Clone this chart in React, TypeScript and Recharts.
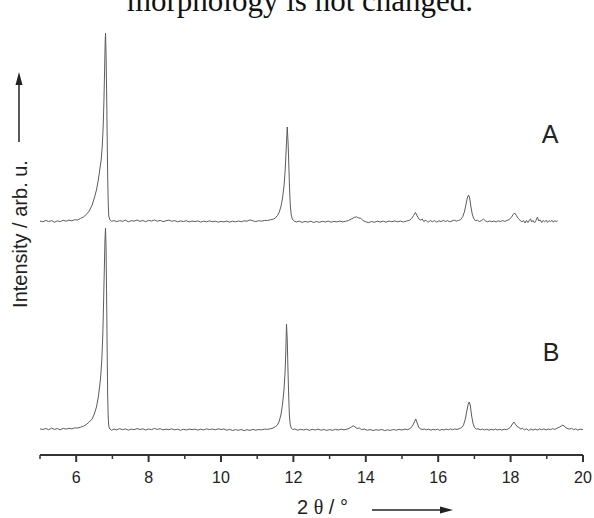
import { LineChart, Line, XAxis, YAxis } from 'recharts'

// 2θ (deg) and intensity above baseline (arb. u.)
const patternA: [number, number][] = [
  [5.0, 1.0], [5.08, 0.2], [5.16, 1.6], [5.24, 0.5], [5.32, 1.3], [5.4, -0.2], [5.48, 1.1], [5.56, 0.4],
  [5.64, 1.7], [5.72, 0.8], [5.8, 1.9], [5.88, 1.2], [5.96, 2.3], [6.04, 2.0], [6.12, 3.6], [6.2, 5.0],
  [6.28, 7.5], [6.36, 11], [6.44, 17], [6.5, 24], [6.56, 32], [6.61, 42], [6.65, 52], [6.69, 62],
  [6.72, 76], [6.745, 95], [6.765, 120], [6.785, 152], [6.8, 180], [6.81, 189], [6.825, 168], [6.84, 132],
  [6.855, 88], [6.87, 45], [6.885, 18], [6.9, 6], [6.93, 2.2], [6.98, 0.6], [7.04, 1.5], [7.12, 0.3],
  [7.2, 1.4], [7.28, 0.7], [7.36, 1.8], [7.44, 0.2], [7.52, 1.3], [7.6, 0.9], [7.68, 2.0], [7.76, 0.6],
  [7.84, 1.5], [7.92, 0.3], [8.0, 1.7], [8.08, 0.9], [8.16, 2.0], [8.24, 0.7], [8.32, 1.6], [8.4, 0.4],
  [8.48, 1.2], [8.56, 1.9], [8.64, 0.7], [8.72, 1.4], [8.8, 0.2], [8.88, 1.1], [8.96, 0.5], [9.04, 1.3],
  [9.12, 0.1], [9.2, 1.0], [9.28, 0.4], [9.36, 1.2], [9.44, -0.1], [9.52, 0.8], [9.6, 0.2], [9.68, 1.1],
  [9.76, 0.3], [9.84, 0.9], [9.92, -0.2], [10.0, 0.7], [10.08, 0.1], [10.16, 0.9], [10.24, -0.1], [10.32, 0.8],
  [10.4, 0.2], [10.48, 1.0], [10.56, 0.3], [10.64, 1.2], [10.72, 0.8], [10.8, 2.1], [10.88, 1.2], [10.96, 0.4],
  [11.04, 1.3], [11.12, 0.8], [11.2, 1.6], [11.28, 1.5], [11.36, 2.2], [11.44, 2.8], [11.5, 4.0], [11.56, 6.5],
  [11.61, 10], [11.66, 16], [11.7, 24], [11.74, 36], [11.77, 50], [11.8, 72], [11.83, 95], [11.855, 78],
  [11.875, 55], [11.895, 32], [11.915, 16], [11.94, 7], [11.97, 3], [12.01, 1.2], [12.08, 0.0], [12.16, 0.9],
  [12.24, -0.4], [12.32, 0.6], [12.4, -0.2], [12.48, 0.8], [12.56, -0.5], [12.64, 0.5], [12.72, -0.3], [12.8, 0.7],
  [12.88, 0.0], [12.96, 0.9], [13.04, -0.2], [13.12, 0.6], [13.2, 0.1], [13.28, 0.9], [13.36, 0.2], [13.44, 0.7],
  [13.52, 1.4], [13.6, 3.0], [13.68, 4.5], [13.74, 5.2], [13.8, 4.0], [13.86, 3.8], [13.92, 1.5], [14.0, 0.2],
  [14.08, -0.6], [14.16, 0.5], [14.24, -0.3], [14.32, 0.8], [14.4, 0.0], [14.48, 0.9], [14.56, -0.2], [14.64, 1.0],
  [14.72, 0.3], [14.8, 1.1], [14.88, 0.2], [14.96, 0.9], [15.04, 0.0], [15.12, 1.0], [15.2, 1.6], [15.26, 3.2],
  [15.32, 6.5], [15.37, 9.5], [15.42, 6.0], [15.47, 3.0], [15.52, 1.8], [15.56, 3.0], [15.6, 0.5], [15.66, 1.8],
  [15.72, -0.4], [15.78, 1.5], [15.84, 0.3], [15.9, 1.4], [15.96, -0.1], [16.02, 1.2], [16.08, 0.4], [16.14, 1.6],
  [16.2, 0.5], [16.26, 1.3], [16.32, 0.2], [16.38, 1.0], [16.44, 1.9], [16.5, 0.8], [16.56, 1.6], [16.62, 2.4],
  [16.68, 5.5], [16.73, 11], [16.77, 18], [16.81, 25], [16.84, 27], [16.87, 24], [16.9, 16], [16.94, 8],
  [16.98, 3.5], [17.03, 1.2], [17.08, 1.8], [17.14, 0.4], [17.2, 1.5], [17.25, 3.0], [17.3, 1.2], [17.36, 0.2],
  [17.42, 1.1], [17.48, 0.3], [17.54, 1.0], [17.6, 0.0], [17.66, 1.2], [17.72, 0.5], [17.78, 1.4], [17.84, 0.6],
  [17.9, 1.5], [17.96, 2.5], [18.02, 4.5], [18.07, 7.5], [18.11, 9], [18.16, 6.5], [18.21, 3.5], [18.26, 1.8],
  [18.31, 0.2], [18.36, 1.4], [18.4, -1.0], [18.44, 1.6], [18.48, -0.6], [18.52, 1.8], [18.55, 3.2], [18.58, 0.0],
  [18.62, 1.6], [18.66, -0.8], [18.7, 1.5], [18.74, 4.8], [18.78, 1.0], [18.82, 2.0], [18.86, -0.5], [18.9, 1.6],
  [18.94, 0.2], [18.98, 1.8], [19.02, -0.4], [19.06, 1.4], [19.1, 0.3], [19.14, 1.7], [19.18, -0.2], [19.22, 1.3],
  [19.26, 0.4], [19.3, 1.2],
]

const patternB: [number, number][] = [
  [5.0, 1.2], [5.08, 0.5], [5.16, 1.5], [5.24, 0.3], [5.32, 1.8], [5.4, 0.6], [5.48, 1.4], [5.56, 0.2],
  [5.64, 1.6], [5.72, 0.9], [5.8, 1.7], [5.88, 1.1], [5.96, 2.1], [6.04, 2.0], [6.12, 2.8], [6.2, 3.8],
  [6.28, 5.5], [6.36, 8], [6.44, 11], [6.5, 16], [6.56, 23], [6.61, 33], [6.65, 44], [6.68, 55],
  [6.71, 72], [6.735, 95], [6.755, 125], [6.775, 158], [6.795, 190], [6.81, 202], [6.825, 182], [6.84, 135],
  [6.855, 80], [6.87, 33], [6.885, 12], [6.9, 4], [6.93, 1.0], [6.98, -0.3], [7.04, 0.9], [7.12, 0.1],
  [7.2, 1.3], [7.28, 0.4], [7.36, 1.1], [7.44, -0.2], [7.52, 0.9], [7.6, 0.3], [7.68, 1.4], [7.76, 0.5],
  [7.84, 1.2], [7.92, 0.0], [8.0, 1.0], [8.08, 0.4], [8.16, 1.5], [8.24, 0.6], [8.32, 1.3], [8.4, 0.1],
  [8.48, 0.9], [8.56, 0.3], [8.64, 1.2], [8.72, 0.2], [8.8, 0.8], [8.88, -0.3], [8.96, 0.7], [9.04, 0.0],
  [9.12, 1.0], [9.2, 0.3], [9.28, 0.9], [9.36, -0.1], [9.44, 0.8], [9.52, 0.1], [9.6, 1.1], [9.68, 0.4],
  [9.76, 1.0], [9.84, 0.2], [9.92, 1.2], [10.0, 0.5], [10.08, 1.0], [10.16, -0.2], [10.24, 0.6], [10.32, -0.5],
  [10.4, 0.4], [10.48, -0.3], [10.56, 0.5], [10.64, -0.6], [10.72, 0.3], [10.8, -0.4], [10.88, 0.6], [10.96, -0.2],
  [11.04, 0.5], [11.12, 0.1], [11.2, 0.9], [11.28, 0.6], [11.36, 1.2], [11.44, 2.0], [11.5, 3.2], [11.56, 5.0],
  [11.61, 9], [11.66, 16], [11.7, 26], [11.74, 40], [11.77, 58], [11.79, 78], [11.81, 106], [11.83, 90],
  [11.85, 60], [11.87, 34], [11.89, 14], [11.91, 6], [11.94, 2], [11.98, 0.5], [12.04, 1.0], [12.12, -0.2],
  [12.2, 0.7], [12.28, 0.0], [12.36, 0.8], [12.44, -0.3], [12.52, 0.6], [12.6, 0.0], [12.68, 0.9], [12.76, -0.2],
  [12.84, 0.5], [12.92, -0.4], [13.0, 0.4], [13.08, -0.3], [13.16, 0.6], [13.24, 0.0], [13.32, 0.8], [13.4, 0.1],
  [13.48, 0.9], [13.54, 1.6], [13.6, 3.0], [13.65, 4.2], [13.7, 3.2], [13.76, 1.5], [13.82, 2.0], [13.88, 0.4],
  [13.96, 1.0], [14.04, -0.3], [14.12, 0.5], [14.2, -0.5], [14.28, 0.3], [14.36, -0.2], [14.44, 0.6], [14.52, -0.6],
  [14.6, 0.2], [14.68, -0.4], [14.76, 0.5], [14.84, -0.2], [14.92, 0.6], [15.0, 0.0], [15.08, 0.9], [15.16, 0.3],
  [15.22, 1.5], [15.28, 3.5], [15.33, 7], [15.38, 11], [15.42, 7], [15.46, 3], [15.5, 1.2], [15.56, 0.6],
  [15.62, 1.0], [15.68, 0.2], [15.74, 0.9], [15.8, -0.2], [15.86, 0.7], [15.92, 0.1], [15.98, 0.8], [16.04, -0.3],
  [16.1, 0.6], [16.16, 0.0], [16.22, 0.9], [16.28, 0.2], [16.34, 1.0], [16.4, 0.3], [16.46, 1.1], [16.52, 0.5],
  [16.58, 1.3], [16.64, 2.2], [16.7, 5], [16.75, 11], [16.79, 19], [16.83, 26], [16.86, 28], [16.89, 24],
  [16.92, 15], [16.96, 7], [17.0, 2.5], [17.05, 0.8], [17.1, 1.3], [17.16, 0.2], [17.22, 1.0], [17.28, 0.0],
  [17.34, 0.8], [17.4, -0.2], [17.46, 0.7], [17.52, 0.1], [17.58, 0.9], [17.64, 0.0], [17.7, 0.7], [17.76, -0.2],
  [17.82, 0.8], [17.88, 0.3], [17.94, 1.2], [18.0, 3.0], [18.05, 6], [18.09, 8], [18.13, 6], [18.18, 3.5],
  [18.23, 2.5], [18.28, 1.0], [18.33, 1.8], [18.38, 0.0], [18.44, 1.2], [18.5, -0.4], [18.56, 1.0], [18.62, -0.2],
  [18.68, 0.9], [18.74, 0.0], [18.8, 1.1], [18.86, 0.3], [18.92, 1.2], [18.98, 0.0], [19.04, 1.0], [19.1, 0.4],
  [19.16, 1.3], [19.22, 0.6], [19.28, 1.8], [19.34, 2.6], [19.4, 4.0], [19.45, 5.0], [19.5, 3.0], [19.56, 1.6],
  [19.62, 0.8], [19.68, 1.7], [19.74, 0.3], [19.8, 1.2], [19.86, -0.2], [19.92, 0.9], [20.0, 0.4],
]

// vertical stacking offsets of the two patterns
const offsetA = 233
const offsetB = 25

const xTicks = [5, 6, 7, 8, 9, 10, 11, 12, 13, 14, 15, 16, 17, 18, 19, 20]

const sans = 'Liberation Sans, Arial, sans-serif'
const serif = 'Liberation Serif, Times New Roman, serif'
const axisColor = '#333'
const traceColor = '#5c5c5c'

const dataA = patternA.map(([t, h]) => ({ t, v: h + offsetA }))
const dataB = patternB.map(([t, h]) => ({ t, v: h + offsetB }))

function XTick(props: any) {
  const { x, y, payload } = props
  const major = payload.value % 2 === 0
  return (
    <g>
      <line x1={x} x2={x} y1={y} y2={y + (major ? 7 : 4)} stroke={axisColor} strokeWidth={major ? 2 : 1.5} />
      {major && (
        <text x={x} y={y + 28} textAnchor="middle" fontFamily={sans} fontSize={16} fill="#222">
          {payload.value}
        </text>
      )}
    </g>
  )
}

export default function App() {
  return (
    <div style={{ position: 'absolute', left: 0, top: 0, width: 594, height: 518, background: '#fff' }}>
      <LineChart width={594} height={518} margin={{ top: 16, right: 11, bottom: 33, left: 40 }}>
        <XAxis
          type="number"
          dataKey="t"
          domain={[5, 20]}
          ticks={xTicks}
          interval={0}
          height={30}
          tickSize={0}
          tickMargin={0}
          tickLine={false}
          tick={<XTick />}
          axisLine={{ stroke: axisColor, strokeWidth: 2 }}
          allowDataOverflow
        />
        <YAxis
          type="number"
          domain={[0, 439]}
          width={0}
          tick={false}
          tickLine={false}
          axisLine={{ stroke: axisColor, strokeWidth: 2 }}
          allowDataOverflow
        />
        <Line data={dataA} dataKey="v" type="linear" stroke={traceColor} strokeWidth={1} dot={false} isAnimationActive={false} />
        <Line data={dataB} dataKey="v" type="linear" stroke={traceColor} strokeWidth={1} dot={false} isAnimationActive={false} />
      </LineChart>
      <svg width={594} height={518} style={{ position: 'absolute', left: 0, top: 0, pointerEvents: 'none' }}>
        <text x={300} y={11} textAnchor="middle" fontFamily={serif} fontSize={31} fill="#111">
          morphology is not changed.
        </text>
        <text x={550} y={143} textAnchor="middle" fontFamily={sans} fontSize={25} fill="#222">A</text>
        <text x={551} y={361} textAnchor="middle" fontFamily={sans} fontSize={25} fill="#222">B</text>
        <text x={27} y={234} transform="rotate(-90 27 234)" textAnchor="middle" fontFamily={sans} fontSize={20} fill="#222">
          Intensity / arb. u.
        </text>
        <line x1={19} x2={19} y1={142} y2={82} stroke="#222" strokeWidth={1.5} />
        <polygon points="19,72 15.5,85 22.5,85" fill="#222" />
        <text x={297} y={514} fontFamily={sans} fontSize={20} fill="#222">
          2 <tspan fontFamily={serif}>θ</tspan> / °
        </text>
        <line x1={372} x2={442} y1={510} y2={510} stroke="#222" strokeWidth={1.5} />
        <polygon points="453,510 440,506.5 440,513.5" fill="#222" />
      </svg>
    </div>
  )
}
